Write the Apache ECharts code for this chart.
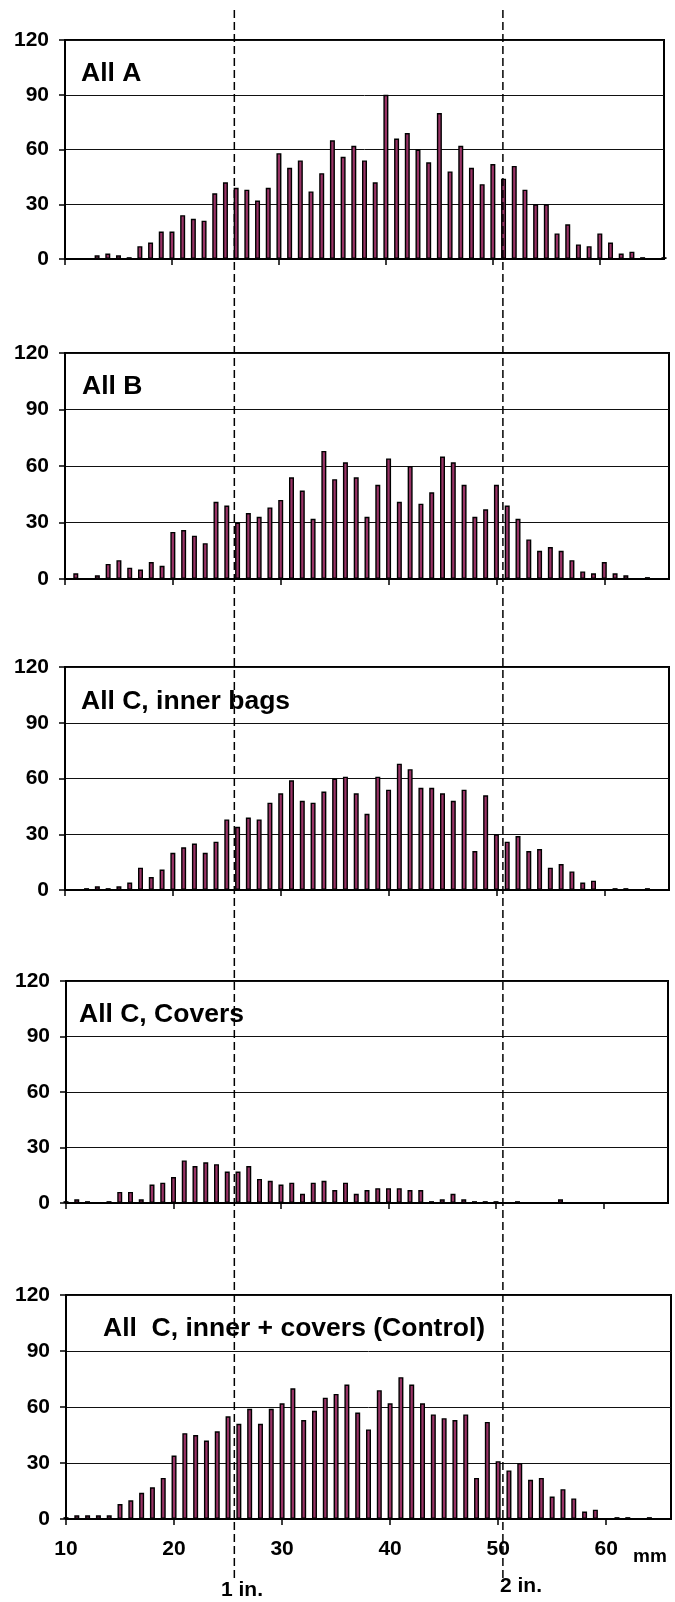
<!DOCTYPE html>
<html>
<head>
<meta charset="utf-8">
<script src="https://cdn.jsdelivr.net/npm/echarts@6/dist/echarts.min.js"></script>
<style>
html,body{margin:0;padding:0;background:#fff;}
#chart{width:675px;height:1602px;}
</style>
</head>
<body>
<div id="chart"></div>
<script>
// ---- data ----
const sizesMm = [10,11,12,13,14,15,16,17,18,19,20,21,22,23,24,25,26,27,28,29,30,31,32,33,34,35,36,37,38,39,40,41,42,43,44,45,46,47,48,49,50,51,52,53,54,55,56,57,58,59,60,61,62,63,64,65,66];

const allA = [0,0,0,2,3,2,1,7,9,15,15,24,22,21,36,42,39,38,32,39,58,50,54,37,47,65,56,62,54,42,90,66,69,60,53,80,48,62,50,41,52,44,51,38,30,30,14,19,8,7,14,9,3,4,1,0,1];
const allB = [0,3,0,2,8,10,6,5,9,7,25,26,23,19,41,39,30,35,33,38,42,54,47,32,68,53,62,54,33,50,64,41,60,40,46,65,62,50,33,37,50,39,32,21,15,17,15,10,4,3,9,3,2,0,1,0,0];
const innerC = [0,0,1,2,1,2,4,12,7,11,20,23,25,20,26,38,34,39,38,47,52,59,48,47,53,60,61,52,41,61,54,68,65,55,55,52,48,54,21,51,30,26,29,21,22,12,14,10,4,5,0,1,1,0,1,0,0];
const coversC = [1,2,1,0,1,6,6,2,10,11,14,23,20,22,21,17,17,20,13,12,10,11,5,11,12,7,11,5,7,8,8,8,7,7,1,2,5,2,1,1,1,0,1,0,0,0,2,0,0,0,0,0,0,0,0,0,0];
const controlC = [1,2,2,2,2,8,10,14,17,22,34,46,45,42,47,55,51,59,51,59,62,70,53,58,65,67,72,57,48,69,62,76,72,62,56,54,53,56,22,52,31,26,30,21,22,12,16,11,4,5,0,1,1,0,1,0,0];

const panelTitles = ['All A', 'All B', 'All C, inner bags', 'All C, Covers', 'All  C, inner + covers (Control)'];
const yTicks = [0, 30, 60, 90, 120];
const xTicks = [10, 20, 30, 40, 50, 60];
const xUnit = 'mm';
const inchMarksMm = [25.7, 50.6];
const inchLabels = ['1 in.', '2 in.'];

// ---- layout (pixels) ----
const panelSeries = [allA, allB, innerC, coversC, controlC];
const grids = [
  {left: 65, top: 40,   width: 599, height: 219},
  {left: 65, top: 353,  width: 604, height: 226},
  {left: 65, top: 667,  width: 604, height: 223},
  {left: 66, top: 981,  width: 602, height: 222},
  {left: 66, top: 1295, width: 605, height: 224}
];
const titlePos = [[81, 74], [82, 387], [81, 702], [79, 1015], [103, 1329]];
const FONT = "'Liberation Sans', Arial, sans-serif";
const BAR_COLOR = '#993366';

const option = {
  backgroundColor: '#fff',
  animation: false,
  grid: [],
  xAxis: [],
  yAxis: [],
  series: [],
  graphic: []
};

grids.forEach((g, i) => {
  option.grid.push(Object.assign({
    show: true, borderColor: '#000', borderWidth: 2, backgroundColor: 'transparent',
    containLabel: false, outerBoundsMode: 'none'
  }, g));
  const isLast = i === grids.length - 1;
  option.xAxis.push({
    type: 'value', gridIndex: i, min: 10, max: 66,
    axisLine: {show: true, onZero: false, lineStyle: {color: '#000', width: 2}},
    axisTick: {show: true, customValues: xTicks, length: 6, inside: false, lineStyle: {color: '#000', width: 1.5}},
    axisLabel: isLast ? {
      show: true, customValues: xTicks, color: '#000', fontSize: 21, fontWeight: 'bold',
      fontFamily: FONT, margin: 20
    } : {show: false},
    splitLine: {show: false}
  });
  option.yAxis.push({
    type: 'value', gridIndex: i, min: 0, max: 120, interval: 30,
    axisLine: {show: true, lineStyle: {color: '#000', width: 2}},
    axisTick: {show: true, length: 6, inside: false, lineStyle: {color: '#000', width: 1.5}},
    axisLabel: {color: '#000', fontSize: 21, fontWeight: 'bold', fontFamily: FONT, margin: 16},
    splitLine: {show: true, lineStyle: {color: '#111', width: 1}}
  });
  const data = [];
  sizesMm.forEach((x, k) => {
    const v = panelSeries[i][k];
    if (v > 0) data.push([x, v]);
  });
  option.series.push({
    type: 'bar', xAxisIndex: i, yAxisIndex: i, data: data,
    barWidth: 5, clip: true,
    itemStyle: {color: BAR_COLOR, borderColor: '#000', borderWidth: 1.4},
    silent: true
  });
  option.graphic.push({
    type: 'text', x: titlePos[i][0], y: titlePos[i][1], silent: true, z: 20,
    style: {text: panelTitles[i], font: "bold 26.5px " + FONT, fill: '#000',
      align: 'left', verticalAlign: 'middle', textAlign: 'left', textVerticalAlign: 'middle'}
  });
});

// overlay grid for the inch marker dashed lines
option.grid.push({left: 65, top: 6, width: 604, height: 1572, show: false, containLabel: false, outerBoundsMode: 'none'});
option.xAxis.push({type: 'value', gridIndex: 5, min: 10, max: 66, show: false});
option.yAxis.push({type: 'value', gridIndex: 5, min: 0, max: 1, show: false});
inchMarksMm.forEach(v => {
  option.series.push({
    type: 'line', xAxisIndex: 5, yAxisIndex: 5, data: [[v, 0], [v, 1]],
    symbol: 'none', silent: true, z: 10,
    lineStyle: {color: '#000', width: 1.5, type: [8, 4]}
  });
});

option.graphic.push(
  {type: 'text', x: 650, y: 1557, silent: true,
   style: {text: xUnit, font: "bold 19px " + FONT, fill: '#000', align: 'center', verticalAlign: 'middle', textAlign: 'center', textVerticalAlign: 'middle'}},
  {type: 'text', x: 242, y: 1590, silent: true,
   style: {text: inchLabels[0], font: "bold 21px " + FONT, fill: '#000', align: 'center', verticalAlign: 'middle', textAlign: 'center', textVerticalAlign: 'middle'}},
  {type: 'text', x: 521, y: 1586, silent: true,
   style: {text: inchLabels[1], font: "bold 21px " + FONT, fill: '#000', align: 'center', verticalAlign: 'middle', textAlign: 'center', textVerticalAlign: 'middle'}}
);

const chart = echarts.init(document.getElementById('chart'), null, {renderer: 'canvas'});
chart.setOption(option);
</script>
</body>
</html>
